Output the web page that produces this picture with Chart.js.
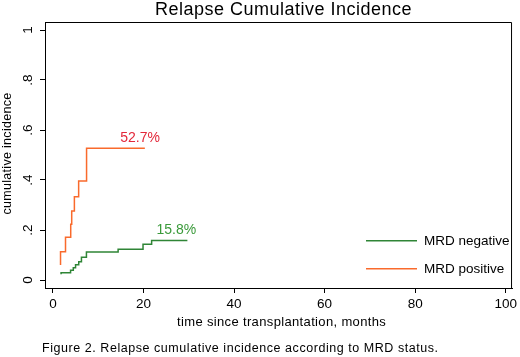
<!DOCTYPE html>
<html>
<head>
<meta charset="utf-8">
<script src="https://cdn.jsdelivr.net/npm/chart.js@4/dist/chart.umd.min.js"></script>
<style>
html,body{margin:0;padding:0;background:#fff;}
#wrap{width:520px;height:357px;}
</style>
</head>
<body>
<div id="wrap"><canvas id="c" width="520" height="357"></canvas></div>
<script>
// ---- data ----
const seriesNames = ["MRD negative", "MRD positive"];
const negTimes  = [1.8, 1.8, 3.9, 4.5, 5.0, 5.7, 6.3, 7.4, 14.4, 19.9, 21.8, 29.7];
const negValues = [0.023, 0.029, 0.039, 0.049, 0.061, 0.073, 0.091, 0.112, 0.123, 0.143, 0.158, 0.158];
const posTimes  = [1.68, 1.68, 2.78, 3.93, 4.15, 4.74, 5.68, 7.43, 20.3];
const posValues = [0.06, 0.113, 0.171, 0.223, 0.276, 0.333, 0.396, 0.527, 0.527];
const endLabels = ["15.8%", "52.7%"];
const xTickValues = [0, 20, 40, 60, 80, 100];
const xTickLabels = ["0", "20", "40", "60", "80", "100"];
const yTickValues = [0, 0.2, 0.4, 0.6, 0.8, 1];
const yTickLabels = ["0", ".2", ".4", ".6", ".8", "1"];
const titleText = "Relapse Cumulative Incidence";
const xTitle = "time since transplantation, months";
const yTitle = "cumulative incidence";
const captionText = "Figure 2. Relapse cumulative incidence according to MRD status.";

const FONT = "'Liberation Sans', Arial, sans-serif";
const GREEN = "#2f8536";
const ORANGE = "#f96a2c";
const GREEN_TXT = "#3a9a3a";
const RED_TXT = "#e3283a";

function pts(t, v) { return t.map((x, i) => ({x: x, y: v[i]})); }

function spaced(ctx, px) { if ('letterSpacing' in ctx) ctx.letterSpacing = px + 'px'; }

const decor = {
  id: 'decor',
  afterDraw(chart) {
    const ctx = chart.ctx;
    const a = chart.chartArea;
    const xs = chart.scales.x, ys = chart.scales.y;
    ctx.save();
    // frame top/right
    ctx.strokeStyle = '#000';
    ctx.lineWidth = 1;
    ctx.beginPath();
    ctx.moveTo(a.left, a.top + 0.5);
    ctx.lineTo(a.right - 0.5, a.top + 0.5);
    ctx.lineTo(a.right - 0.5, a.bottom);
    ctx.stroke();
    // y tick labels rotated
    ctx.fillStyle = '#000';
    ctx.font = '13.5px ' + FONT;
    ctx.textAlign = 'center';
    ctx.textBaseline = 'middle';
    yTickValues.forEach((v, i) => {
      const py = ys.getPixelForValue(v);
      ctx.save();
      ctx.translate(28, py);
      ctx.rotate(-Math.PI / 2);
      ctx.fillText(yTickLabels[i], 0, 0);
      ctx.restore();
    });
    // y title
    ctx.save();
    ctx.font = '12.5px ' + FONT;
    spaced(ctx, 0.3);
    ctx.translate(8, 153.5);
    ctx.rotate(-Math.PI / 2);
    ctx.fillText(yTitle, 0, 0);
    ctx.restore();
    // title
    ctx.save();
    ctx.font = '18px ' + FONT;
    spaced(ctx, 0.5);
    ctx.textAlign = 'left';
    ctx.textBaseline = 'alphabetic';
    ctx.fillText(titleText, 155, 15);
    ctx.restore();
    // x title
    ctx.save();
    ctx.font = '13px ' + FONT;
    spaced(ctx, 0.35);
    ctx.textAlign = 'left';
    ctx.textBaseline = 'middle';
    ctx.fillText(xTitle, 177, 322);
    ctx.restore();
    // caption
    ctx.save();
    ctx.font = '12.5px ' + FONT;
    spaced(ctx, 0.55);
    ctx.textAlign = 'left';
    ctx.textBaseline = 'middle';
    ctx.fillText(captionText, 42, 349);
    ctx.restore();
    // end labels
    ctx.textAlign = 'center';
    ctx.textBaseline = 'middle';
    ctx.font = '14px ' + FONT;
    const negEnd = negTimes.length - 1, posEnd = posTimes.length - 1;
    ctx.fillStyle = GREEN_TXT;
    ctx.fillText(endLabels[0], xs.getPixelForValue(negTimes[negEnd]) - 11, ys.getPixelForValue(negValues[negEnd]) - 10.8);
    ctx.fillStyle = RED_TXT;
    ctx.fillText(endLabels[1], xs.getPixelForValue(posTimes[posEnd]) - 4.7, ys.getPixelForValue(posValues[posEnd]) - 10);
    // legend
    const items = [[seriesNames[0], GREEN, 241], [seriesNames[1], ORANGE, 269]];
    ctx.textAlign = 'left';
    ctx.font = '13.5px ' + FONT;
    items.forEach(it => {
      ctx.strokeStyle = it[1];
      ctx.lineWidth = 1.5;
      ctx.beginPath();
      ctx.moveTo(366, it[2] - 0.3);
      ctx.lineTo(417, it[2] - 0.3);
      ctx.stroke();
      ctx.fillStyle = '#000';
      ctx.fillText(it[0], 424, it[2]);
    });
    ctx.restore();
  }
};

new Chart(document.getElementById('c'), {
  type: 'line',
  data: {
    datasets: [
      {label: seriesNames[0], data: pts(negTimes, negValues), borderColor: GREEN, borderWidth: 1.5, pointRadius: 0, stepped: 'before', fill: false},
      {label: seriesNames[1], data: pts(posTimes, posValues), borderColor: ORANGE, borderWidth: 1.5, pointRadius: 0, stepped: 'before', fill: false}
    ]
  },
  options: {
    responsive: false,
    animation: false,
    devicePixelRatio: 1,
    layout: {padding: {top: 22, right: 3, left: 0, bottom: 0}},
    plugins: {legend: {display: false}, title: {display: false}, tooltip: {enabled: false}},
    scales: {
      x: {
        type: 'linear', min: -1.75, max: 101.4,
        afterBuildTicks: s => { s.ticks = xTickValues.map(v => ({value: v})); },
        afterFit: s => { s.height = 69; },
        grid: {display: true, drawOnChartArea: false, drawTicks: true, tickLength: 5, color: '#000'},
        border: {display: true, color: '#000', width: 1},
        ticks: {color: '#000', font: {family: FONT, size: 13.5}, padding: 3, maxRotation: 0,
                callback: (v) => { const i = xTickValues.indexOf(v); return i >= 0 ? xTickLabels[i] : ''; }}
      },
      y: {
        type: 'linear', min: -0.032, max: 1.032,
        afterBuildTicks: s => { s.ticks = yTickValues.map(v => ({value: v})); },
        afterFit: s => { s.width = 45; },
        grid: {display: true, drawOnChartArea: false, drawTicks: true, tickLength: 5, color: '#000'},
        border: {display: true, color: '#000', width: 1},
        ticks: {display: false}
      }
    }
  },
  plugins: [decor]
});
</script>
</body>
</html>
